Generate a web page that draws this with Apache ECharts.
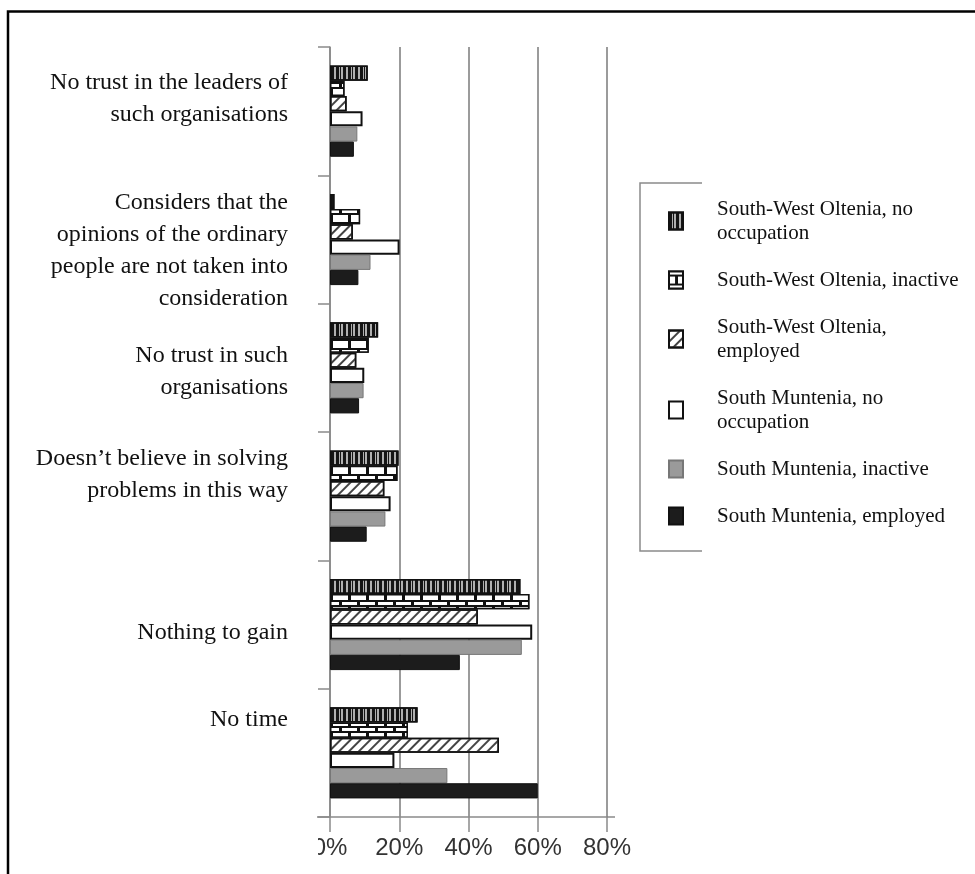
<!DOCTYPE html>
<html>
<head>
<meta charset="utf-8">
<script src="https://cdn.jsdelivr.net/npm/echarts@6/dist/echarts.min.js"></script>
<style>
  html, body { margin: 0; padding: 0; background: #fff; }
  #chart { width: 975px; height: 874px; }
</style>
</head>
<body>
<div id="chart"></div>
<script>
// Reasons for not joining such organisations, share of respondents (%)
const categories = [
  'No trust in the leaders of\nsuch organisations',
  'Considers that the\nopinions of the ordinary\npeople are not taken into\nconsideration',
  'No trust in such\norganisations',
  'Doesn\u2019t believe in solving\nproblems in this way',
  'Nothing to gain',
  'No time'
];

const seriesNames = [
  'South-West Oltenia, no occupation',
  'South-West Oltenia, inactive',
  'South-West Oltenia, employed',
  'South Muntenia, no occupation',
  'South Muntenia, inactive',
  'South Muntenia, employed'
];

const legendLabels = [
  'South-West Oltenia, no\noccupation',
  'South-West Oltenia, inactive',
  'South-West Oltenia,\nemployed',
  'South Muntenia, no\noccupation',
  'South Muntenia, inactive',
  'South Muntenia, employed'
];

const swoNoOccupation = [10.9, 1.3, 13.9, 19.8, 55.0, 25.3];
const swoInactive     = [4.2, 8.7, 11.2, 19.5, 57.6, 22.5];
const swoEmployed     = [4.8, 6.6, 7.6, 15.7, 42.7, 48.8];
const smNoOccupation  = [9.4, 20.1, 9.9, 17.5, 58.4, 18.6];
const smInactive      = [7.9, 11.7, 9.7, 16.0, 55.4, 33.9];
const smEmployed      = [6.9, 8.2, 8.4, 10.6, 37.5, 60.0];

const xTicks = { min: 0, max: 80, interval: 20 };

// vertical nudges of the category labels (px, negative = up)
const labelShift = [-12, 11, 4, -21, 8, -33];

const serif = '"Liberation Serif", "Times New Roman", serif';
const sans = '"Liberation Sans", Arial, sans-serif';

const values = [swoNoOccupation, swoInactive, swoEmployed, smNoOccupation, smInactive, smEmployed];

// fill styles: striped, brick, hatched, white, grey, black
const styles = [
  {
    color: '#b0b0b0', borderColor: '#111', borderWidth: 1.5,
    decal: {
      symbol: 'rect', symbolSize: 1, symbolKeepAspect: false, color: '#151515',
      dashArrayX: [3, 1, 1, 1.5, 2.5, 1.5], dashArrayY: [4, 0]
    }
  },
  {
    color: '#111', borderColor: '#111', borderWidth: 1.5,
    decal: {
      symbol: 'rect', symbolSize: 1, symbolKeepAspect: false, color: '#fff',
      dashArrayX: [[15, 3], [6, 3, 9, 0]], dashArrayY: [3, 1.5, 6.5, 1.5]
    }
  },
  {
    color: '#fff', borderColor: '#111', borderWidth: 1.5,
    decal: {
      symbol: 'rect', symbolSize: 1, symbolKeepAspect: false, color: '#444',
      dashArrayX: [1, 0], dashArrayY: [1.1, 4.3], rotation: -Math.PI / 4
    }
  },
  { color: '#fff', borderColor: '#111', borderWidth: 2 },
  { color: '#9a9a9a', borderColor: '#777', borderWidth: 1 },
  { color: '#1c1c1c', borderColor: '#111', borderWidth: 1 }
];

// spacer styles that move each category label up or down
const labelRich = {};
labelShift.forEach((s, i) => {
  labelRich['g' + i] = { fontSize: 1, lineHeight: Math.max(1, 2 * Math.abs(s)) };
});

const chart = echarts.init(document.getElementById('chart'), null, { renderer: 'canvas' });

const series = seriesNames.map((name, i) => ({
  name: name,
  type: 'bar',
  data: values[i],
  barWidth: 15.2,
  barGap: '0%',
  itemStyle: styles[i],
  emphasis: { disabled: true },
  animation: false
}));

const option = {
  backgroundColor: '#fff',
  animation: false,
  grid: { left: 330, right: 368, top: 47, bottom: 57, containLabel: false },
  xAxis: {
    type: 'value',
    min: xTicks.min, max: xTicks.max, interval: xTicks.interval,
    axisLine: { show: true, lineStyle: { color: '#8a8a8a', width: 1.5 } },
    axisTick: { show: true, length: 15, lineStyle: { color: '#8a8a8a', width: 1.5 } },
    splitLine: { show: true, lineStyle: { color: '#7a7a7a', width: 1.5 } },
    axisLabel: {
      formatter: '{value}%', color: '#333', fontFamily: sans, fontSize: 24, margin: 19
    }
  },
  yAxis: {
    type: 'category',
    inverse: true,
    data: categories,
    axisLine: { show: true, lineStyle: { color: '#8a8a8a', width: 1.5 } },
    axisTick: { show: true, length: 12, lineStyle: { color: '#8a8a8a', width: 1.5 } },
    axisLabel: {
      color: '#111', fontFamily: serif, fontSize: 24, lineHeight: 32,
      align: 'right', margin: 42, interval: 0,
      rich: labelRich,
      formatter: (value, index) => {
        const s = labelShift[index];
        if (!s) return value;
        return s < 0 ? value + '\n{g' + index + '| }' : '{g' + index + '| }\n' + value;
      }
    }
  },
  legend: {
    orient: 'vertical',
    left: 668,
    top: 197,
    padding: 0,
    itemGap: 23,
    itemWidth: 14,
    itemHeight: 17,
    icon: 'rect',
    data: seriesNames,
    formatter: (name) => legendLabels[seriesNames.indexOf(name)],
    textStyle: {
      color: '#111', fontFamily: serif, fontSize: 21, lineHeight: 24,
      padding: [0, 0, 0, 29]
    },
    selectedMode: false
  },
  graphic: [
    {
      type: 'polyline',
      shape: { points: [[8, 874], [8, 11.5], [975, 11.5]] },
      style: { stroke: '#000', lineWidth: 2.5, fill: null },
      silent: true
    },
    {
      type: 'polyline',
      shape: { points: [[702, 183], [640, 183], [640, 551], [702, 551]] },
      style: { stroke: '#8a8a8a', lineWidth: 1.5, fill: null },
      silent: true
    },
    // axis line runs a little past both ends of the plot
    {
      type: 'line',
      shape: { x1: 317, y1: 817, x2: 330, y2: 817 },
      style: { stroke: '#8a8a8a', lineWidth: 1.5 },
      silent: true
    },
    {
      type: 'line',
      shape: { x1: 607, y1: 817, x2: 615, y2: 817 },
      style: { stroke: '#8a8a8a', lineWidth: 1.5 },
      silent: true
    },
    // left edge of the tick-label strip is cut off
    {
      type: 'rect',
      shape: { x: 290, y: 830, width: 28, height: 40 },
      style: { fill: '#fff' },
      z: 100,
      silent: true
    }
  ],
  series: series
};

chart.setOption(option);
</script>
</body>
</html>
